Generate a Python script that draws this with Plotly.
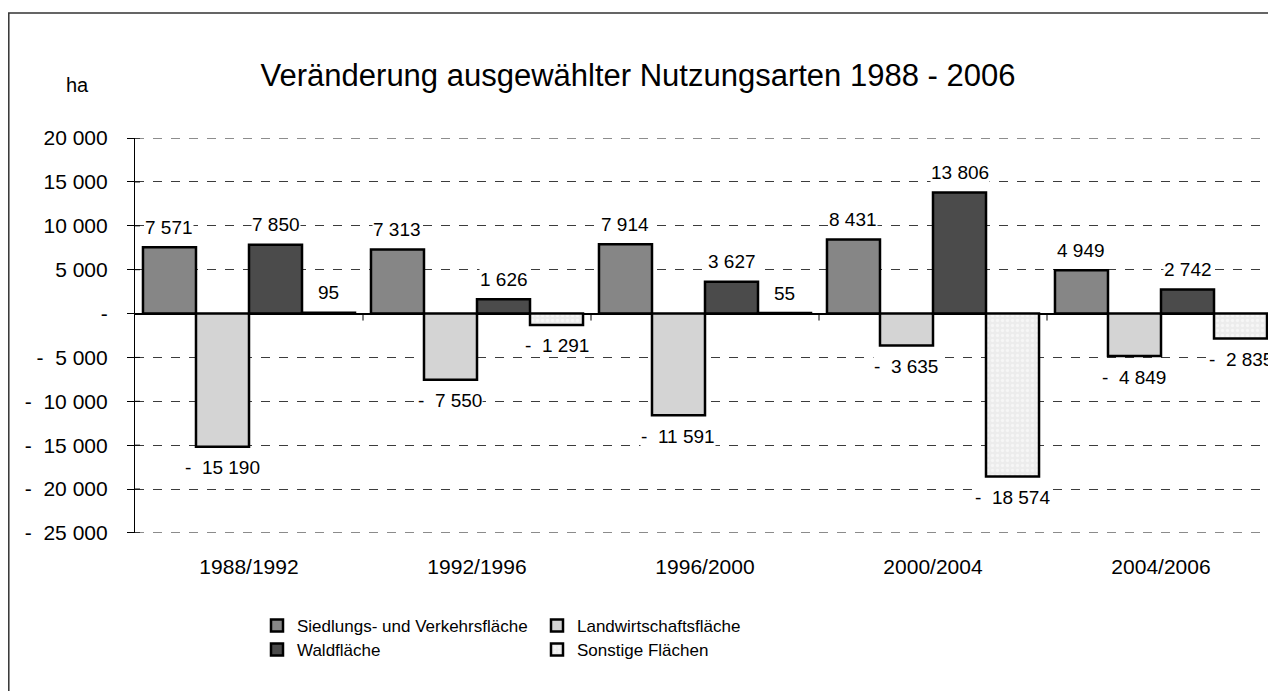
import plotly.graph_objects as go

categories = ["1988/1992", "1992/1996", "1996/2000", "2000/2004", "2004/2006"]
series_names = ["Siedlungs- und Verkehrsfläche", "Landwirtschaftsfläche", "Waldfläche", "Sonstige Flächen"]
siedlung = [7571, 7313, 7914, 8431, 4949]
landwirtschaft = [-15190, -7550, -11591, -3635, -4849]
wald = [7850, 1626, 3627, 13806, 2742]
sonstige = [95, -1291, 55, -18574, -2835]
y_ticks = [20000, 15000, 10000, 5000, 0, -5000, -10000, -15000, -20000, -25000]

series_values = [siedlung, landwirtschaft, wald, sonstige]
colors = ["#868686", "#d4d4d4", "#4b4b4b", "#efefef"]
FONT = "Liberation Sans, Arial, sans-serif"
NB = "\u00a0"


def fmt_label(v):
    s = f"{abs(v):,}".replace(",", " ")
    return s if v > 0 else "-" + NB * 2 + s


def fmt_tick(v):
    if v == 0:
        return "-"
    s = f"{abs(v):,}".replace(",", " ")
    return s if v > 0 else "-" + NB * 2 + s


# page body has an 8px margin: figure occupies page x 8..1276, y 8..691
OFF = 8
W, H = 1276 - OFF, 691 - OFF
L, R, T, B = 135 - OFF, 1, 138 - OFF, 158
pw, ph = W - L - R, H - T - B

fig = go.Figure()
legend_ids = ["legend", "legend", "legend2", "legend2"]
for i, (name, vals) in enumerate(zip(series_names, series_values)):
    marker = dict(color=colors[i], line=dict(color="#000000", width=2.5))
    if i == 3:
        marker["pattern"] = dict(shape=".", bgcolor="#ececec", fgcolor="#ffffff", size=5, solidity=0.35)
    fig.add_trace(go.Bar(x=categories, y=vals, name=name, marker=marker,
                         legend=legend_ids[i], hoverinfo="x+y"))

# data labels
group_px = pw / len(categories)
bargap = 0.07
bar_px = group_px * (1 - bargap) / 4
for i, vals in enumerate(series_values):
    for c, v in zip(categories, vals):
        fig.add_annotation(x=c, y=v, text=fmt_label(v), showarrow=False,
                           xshift=(i - 1.5) * bar_px, yshift=20 if v >= 0 else -21,
                           bgcolor="#ffffff", borderpad=0,
                           font=dict(size=19, color="#000000", family=FONT))

# small category separator ticks below the zero line
for k in range(1, len(categories)):
    fig.add_shape(type="line", xref="x", yref="y", ysizemode="pixel", yanchor=0,
                  x0=k - 0.5, x1=k - 0.5, y0=0, y1=-7,
                  line=dict(color="#000000", width=1))

# dashed gridlines at the axis extremes (plotly omits them at the range edges)
for v in (max(y_ticks), min(y_ticks)):
    fig.add_shape(type="line", xref="paper", yref="y", x0=0, x1=1, y0=v, y1=v,
                  line=dict(color="#3c3c3c", width=1, dash="dash"), layer="below")

# left-side half of the crossing tick marks
for v in y_ticks:
    fig.add_shape(type="line", xref="paper", yref="y", xsizemode="pixel", xanchor=0,
                  x0=0, x1=5, y0=v, y1=v, line=dict(color="#000000", width=1))

leg_x = (257 - OFF - L) / pw
fig.update_layout(
    width=W, height=H,
    margin=dict(l=L, r=R, t=T, b=B),
    paper_bgcolor="#ffffff", plot_bgcolor="#ffffff",
    barmode="group", bargap=bargap, bargroupgap=0,
    font=dict(family=FONT, color="#000000"),
    title=dict(text="Veränderung ausgewählter Nutzungsarten 1988 - 2006",
               x=(638 - OFF) / W, xref="container", xanchor="center",
               y=1 - (75 - OFF) / H, yref="container", yanchor="middle",
               font=dict(size=31, family=FONT, color="#000000")),
    xaxis=dict(showgrid=False, showline=False, ticks="", tickfont=dict(size=21, family=FONT),
               ticklabelstandoff=19, zeroline=False),
    yaxis=dict(range=[-25010, 20010], tickvals=y_ticks, ticktext=[fmt_tick(v) for v in y_ticks],
               showgrid=True, gridcolor="#3c3c3c", griddash="dash", gridwidth=1,
               zeroline=True, zerolinecolor="#000000", zerolinewidth=1.5,
               showline=True, linecolor="#000000", linewidth=1.2,
               ticks="outside", ticklen=7, tickcolor="#000000",
               tickfont=dict(size=21, family=FONT), ticklabelstandoff=15),
    legend=dict(orientation="h", x=leg_x, xref="paper",
                y=1 - (626 - OFF) / H, yref="container", yanchor="middle", xanchor="left",
                entrywidth=235, font=dict(size=17, family=FONT), itemwidth=30,
                traceorder="normal", bgcolor="rgba(0,0,0,0)"),
    legend2=dict(orientation="h", x=leg_x, xref="paper",
                 y=1 - (650 - OFF) / H, yref="container", yanchor="middle", xanchor="left",
                 entrywidth=235, font=dict(size=17, family=FONT), itemwidth=30,
                 traceorder="normal", bgcolor="rgba(0,0,0,0)"),
    showlegend=True,
)

fig.add_annotation(text="ha", x=(77 - OFF - L) / pw, xref="paper", y=1 + (T - (85 - OFF)) / ph, yref="paper",
                   showarrow=False, xanchor="center", yanchor="middle", font=dict(size=20, family=FONT))

# outer frame
fig.add_shape(type="rect", xref="paper", yref="paper",
              x0=(0.8 - L) / pw, x1=(W + 5 - L) / pw,
              y0=-(B + 5) / ph, y1=1 + (T - (13 - OFF)) / ph,
              line=dict(color="#333333", width=1.5), fillcolor="rgba(0,0,0,0)", layer="below")

fig.write_html("out.html")
